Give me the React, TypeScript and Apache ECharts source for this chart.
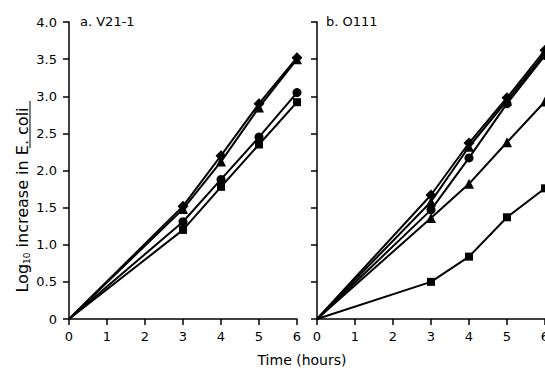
import React, { useEffect, useRef } from "react";
import * as echarts from "echarts";

const hours = [0, 3, 4, 5, 6];

// Panel a. V21-1
const aDiamond = [0, 1.52, 2.2, 2.9, 3.52];
const aTriangle = [0, 1.48, 2.12, 2.85, 3.5];
const aCircle = [0, 1.31, 1.88, 2.45, 3.05];
const aSquare = [0, 1.2, 1.78, 2.35, 2.92];

// Panel b. O111
const bDiamond = [0, 1.67, 2.37, 2.98, 3.62];
const bTriangle = [0, 1.58, 2.32, 2.94, 3.58];
const bCircle = [0, 1.47, 2.17, 2.9, 3.55];
const bTriangle2 = [0, 1.36, 1.82, 2.38, 2.93];
const bSquare = [0, 0.5, 0.84, 1.37, 1.76];

const FONT = "DejaVu Sans";

function mkSeries(vals: number[], symbol: string, idx: number, size = 9) {
  return {
    type: "line",
    xAxisIndex: idx,
    yAxisIndex: idx,
    symbol,
    symbolSize: size,
    lineStyle: { color: "#000", width: 2 },
    itemStyle: { color: "#000" },
    clip: false,
    data: hours.map((h, i) =>
      i === 0 ? { value: [h, vals[i]], symbol: "none" } : [h, vals[i]]
    ),
    z: 3,
  };
}

export default function App() {
  const ref = useRef<HTMLDivElement>(null);
  useEffect(() => {
    if (!ref.current) return;
    const chart = echarts.init(ref.current, null, { renderer: "svg" });
    const xAxisCommon = {
      type: "value",
      min: 0,
      max: 6,
      interval: 1,
      axisLine: { show: true, lineStyle: { color: "#000", width: 1.5 } },
      axisTick: { show: true, length: 6, inside: false, lineStyle: { color: "#000", width: 1.5 } },
      axisLabel: { color: "#000", fontFamily: FONT, fontSize: 13, margin: 11, showMaxLabel: true, showMinLabel: true },
      splitLine: { show: false },
    };
    const yAxisCommon = {
      type: "value",
      min: 0,
      max: 4,
      interval: 0.5,
      axisLine: { show: true, lineStyle: { color: "#000", width: 1.5 } },
      axisTick: { show: true, length: 6, inside: false, lineStyle: { color: "#000", width: 1.5 } },
      splitLine: { show: false },
    };
    chart.setOption({
      animation: false,
      backgroundColor: "#fff",
      grid: [
        { left: 69, top: 22, width: 228, height: 297, outerBoundsMode: "none", containLabel: false },
        { left: 317, top: 22, width: 228, height: 297, outerBoundsMode: "none", containLabel: false },
      ],
      xAxis: [
        { ...xAxisCommon, gridIndex: 0 },
        { ...xAxisCommon, gridIndex: 1 },
      ],
      yAxis: [
        {
          ...yAxisCommon,
          gridIndex: 0,
          axisLabel: {
            color: "#000",
            fontFamily: FONT,
            fontSize: 13,
            margin: 12,
            formatter: (v: number) => (v === 0 ? "0" : v.toFixed(1)),
          },
        },
        { ...yAxisCommon, gridIndex: 1, axisLabel: { show: false } },
      ],
      series: [
        mkSeries(aSquare, "rect", 0, 8),
        mkSeries(aCircle, "circle", 0),
        mkSeries(aTriangle, "triangle", 0, 10),
        mkSeries(aDiamond, "diamond", 0, 11),
        mkSeries(bSquare, "rect", 1, 8),
        mkSeries(bTriangle2, "triangle", 1, 10),
        mkSeries(bCircle, "circle", 1),
        mkSeries(bTriangle, "triangle", 1, 10),
        mkSeries(bDiamond, "diamond", 1, 11),
      ],
      graphic: [
        {
          type: "text",
          left: 80,
          top: 15,
          style: { text: "a. V21-1", fill: "#000", font: `13px '${FONT}'` },
        },
        {
          type: "text",
          left: 326,
          top: 15,
          style: { text: "b. O111", fill: "#000", font: `13px '${FONT}'` },
        },
        {
          type: "text",
          x: 302,
          y: 360,
          style: {
            text: "Time (hours)",
            fill: "#000",
            font: `14px '${FONT}'`,
            align: "center",
            verticalAlign: "middle",
          },
        },
        {
          type: "text",
          x: 22,
          y: 200,
          rotation: Math.PI / 2,
          style: {
            text: "{n|Log}{s|10}{n| increase in E. coli}",
            align: "center",
            verticalAlign: "middle",
            fill: "#000",
            rich: {
              n: { fontFamily: FONT, fontSize: 16, lineHeight: 18, fill: "#000", verticalAlign: "middle" },
              s: { fontFamily: FONT, fontSize: 9, lineHeight: 9, fill: "#000", verticalAlign: "bottom" },
            },
          },
        },
        {
          type: "line",
          shape: { x1: 30, y1: 101, x2: 30, y2: 148 },
          style: { stroke: "#000", lineWidth: 1 },
        },
      ],
    });
    return () => chart.dispose();
  }, []);
  return (
    <div
      ref={ref}
      style={{ position: "absolute", left: 0, top: 0, width: 545, height: 379 }}
    />
  );
}
